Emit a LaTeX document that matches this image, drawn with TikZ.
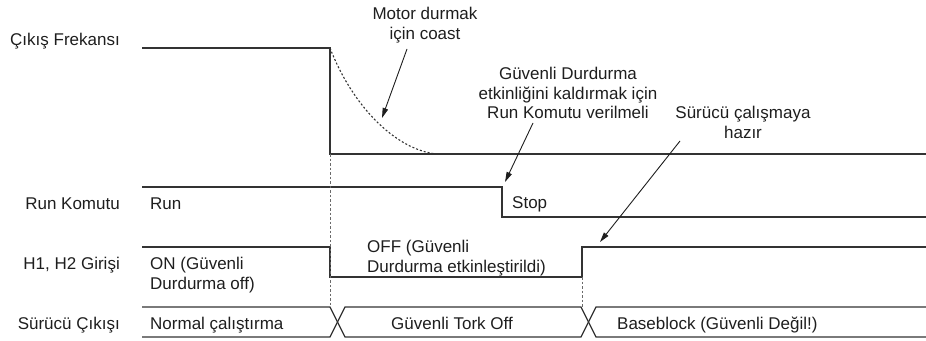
\documentclass[tikz,border=0pt]{standalone}
\usepackage{fontspec}
\setmainfont{Liberation Sans}
\usetikzlibrary{arrows.meta}
\definecolor{ink}{HTML}{1E1E1E}
\definecolor{wavec}{HTML}{333333}
\definecolor{guidec}{HTML}{6A6A6A}
\begin{document}
\begin{tikzpicture}[x=1pt,y=-1pt,
  wave/.style={draw=wavec, line width=1.3pt, line join=miter},
  guide/.style={draw=guidec, line width=0.8pt, dash pattern=on 2.5pt off 2pt},
  coast/.style={draw=wavec, line width=1.1pt, dash pattern=on 2pt off 2pt},
  callout/.style={draw=ink, line width=0.9pt, -{Triangle[length=10pt,width=5.5pt]}},
  lbl/.style={font=\fontsize{17}{19.5}\selectfont, text=ink, inner sep=0pt}]
\useasboundingbox (0,0) rectangle (926,340);

% left signal names
\node[lbl, anchor=base east] (nfreq) at (120,45) {Çıkış Frekansı};
\node[lbl, anchor=base east] (nrun)  at (120,209) {Run Komutu};
\node[lbl, anchor=base east] (nh12)  at (120,269) {H1, H2 Girişi};
\node[lbl, anchor=base east] (nout)  at (120,329) {Sürücü Çıkışı};

% output frequency
\draw[wave] (142,48) -- (330,48) -- (330,154) -- (926,154);
\draw[coast] (330,48) .. controls (352,105) and (395,150) .. (437,154);

% run command
\draw[wave] (142,187) -- (502,187) -- (502,217) -- (926,217);
\node[lbl, anchor=base west] (trun)  at (150,209) {Run};
\node[lbl, anchor=base west] (tstop) at (512,208) {Stop};

% H1, H2 input
\draw[wave] (142,247) -- (330,247) -- (330,277) -- (582,277) -- (582,247) -- (926,247);
\node[lbl, anchor=north west, align=left] (ton)  at (150,257) {ON (Güvenli\\Durdurma off)};
\node[lbl, anchor=north west, align=left] (toff) at (367,240) {OFF (Güvenli\\Durdurma etkinleştirildi)};

% drive output
\draw[wave] (142,307) -- (330,307) -- (345,337) -- (581,337) -- (596,307) -- (926,307);
\draw[wave] (142,337) -- (330,337) -- (345,307) -- (581,307) -- (596,337) -- (926,337);
\node[lbl, anchor=base west] (tnorm) at (150,329) {Normal çalıştırma};
\node[lbl, anchor=base]      (tsto)  at (452,329) {Güvenli Tork Off};
\node[lbl, anchor=base west] (tbb)   at (617,329) {Baseblock (Güvenli Değil!)};

% guide lines
\draw[guide] (330,154) -- (330,307);
\draw[guide] (582,277) -- (582,307);

% callouts
\node[lbl, anchor=north, align=center] (lcoast) at (425,7) {Motor durmak\\için coast};
\node[lbl, anchor=north, align=center] (lsto) at (568,67) {Güvenli Durdurma\\etkinliğini kaldırmak için\\Run Komutu verilmeli};
\node[lbl, anchor=north, align=center] (lready) at (743,106) {Sürücü çalışmaya\\hazır};

\coordinate (a1s) at (407,49);  \coordinate (a1e) at (382,118);
\coordinate (a2s) at (533,123); \coordinate (a2e) at (505,182);
\coordinate (a3s) at (680,141); \coordinate (a3e) at (600,242);
\draw[callout] (a1s) -- (a1e);
\draw[callout] (a2s) -- (a2e);
\draw[callout] (a3s) -- (a3e);
\end{tikzpicture}
\end{document}
